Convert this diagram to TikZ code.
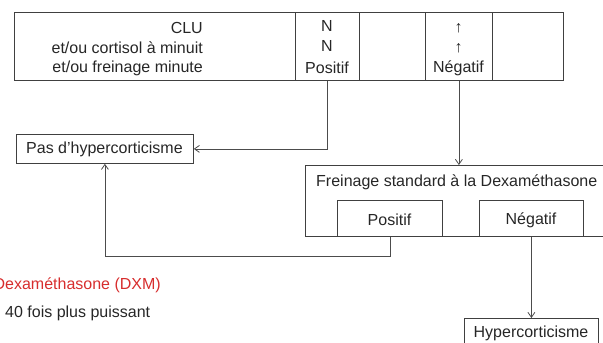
\documentclass[tikz,border=0pt]{standalone}
\usepackage{fontspec}
\setmainfont{Liberation Sans}
\usetikzlibrary{arrows.meta}
\begin{document}
\begin{tikzpicture}[x=1pt,y=-1pt,
  box/.style={draw=black!75, line width=0.8pt, inner sep=0pt, anchor=north west},
  lbl/.style={inner sep=0pt, font=\fontsize{16}{18}\selectfont, text=black!85},
  conn/.style={draw=black!70, line width=0.8pt},
  arr/.style={conn, -{Straight Barb[length=5pt,width=7pt]}}]
\useasboundingbox (0,0) rectangle (603,343);
\clip (0,0) rectangle (603,343);
% top row
\node[box, minimum width=549pt, minimum height=68pt] (top) at (14,12) {};
\node[box, minimum width=64pt, minimum height=68pt] (pos1) at (295,12) {};
\node[box, minimum width=67pt, minimum height=68pt] (neg1) at (425,12) {};
\node[lbl, anchor=east] (t1) at (203,28) {CLU};
\node[lbl, anchor=east] (t2) at (203,48) {et/ou cortisol à minuit};
\node[lbl, anchor=east] (t3) at (203,68) {et/ou freinage minute};
\node[lbl] (n1) at (327,26) {N};
\node[lbl] (n2) at (327,46) {N};
\node[lbl] (p1) at (327,68) {Positif};
\node[lbl] (u1) at (458.5,28) {↑};
\node[lbl] (u2) at (458.5,48) {↑};
\node[lbl] (g1) at (458.5,68) {Négatif};
% pas d'hypercorticisme
\node[box, minimum width=177pt, minimum height=29pt] (pas) at (16,134) {};
\node[lbl] (pastxt) at (104.5,149) {Pas d'hypercorticisme};
% freinage
\node[box, minimum width=315pt, minimum height=71pt] (frein) at (305,165) {};
\node[lbl, anchor=west] (freintxt) at (316,182) {Freinage standard à la Dexaméthasone};
\node[box, minimum width=105pt, minimum height=36pt] (pos2) at (337,200) {};
\node[lbl] (pos2txt) at (389.5,220) {Positif};
\node[box, minimum width=104pt, minimum height=36pt] (neg2) at (479,200) {};
\node[lbl] (neg2txt) at (531,220) {Négatif};
% hypercorticisme
\node[box, minimum width=134pt, minimum height=40pt] (hyper) at (464,318) {};
\node[lbl] (hypertxt) at (531,333) {Hypercorticisme};
% side text
\node[lbl, anchor=east, text={rgb,255:red,215;green,45;blue,45}] (dxm) at (161,285) {Dexaméthasone (DXM)};
\node[lbl, anchor=west] (fois) at (5,313) {40 fois plus puissant};
% connectors
\draw[arr] (pos1.south) |- (pas.east);
\draw[arr] (neg1.south) -- (neg1.south |- frein.north);
\draw[arr] (pos2.south) -- ++(0,20) -| (pas.south);
\draw[arr] (neg2.south) -- (neg2.south |- hyper.north);
\end{tikzpicture}
\end{document}
